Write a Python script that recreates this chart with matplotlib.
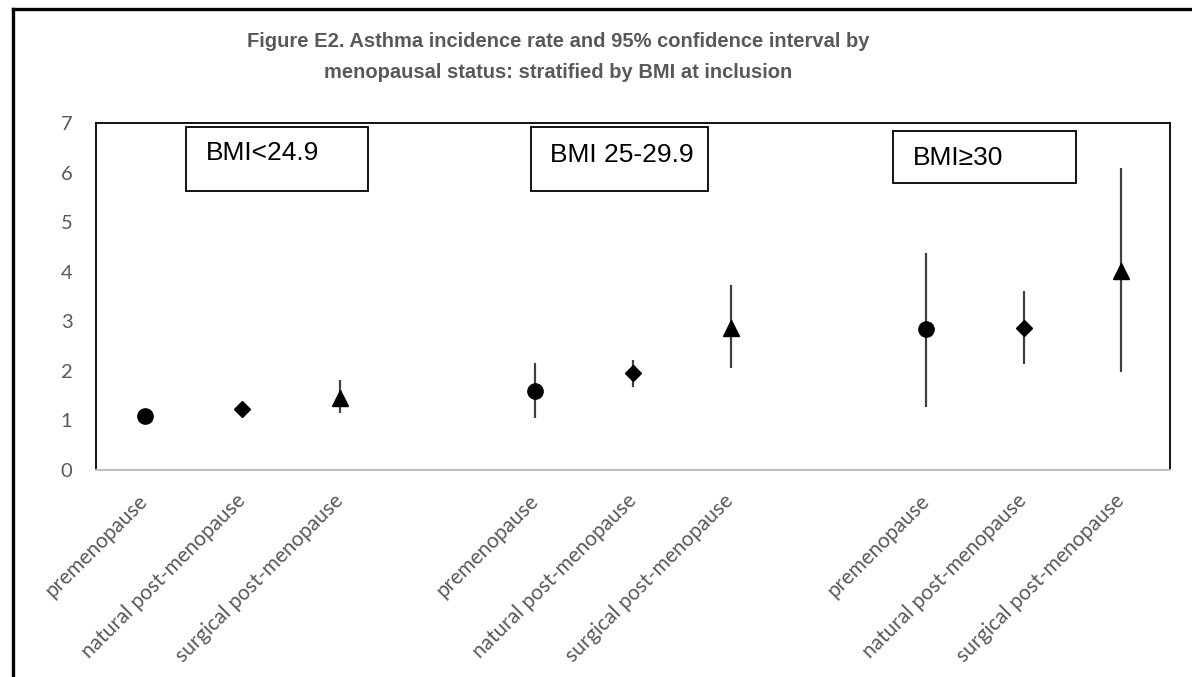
import matplotlib.pyplot as plt
from matplotlib.patches import Rectangle
from matplotlib.lines import Line2D

# datos
status = ['premenopause', 'natural post-menopause', 'surgical post-menopause']
groups = ['BMI<24.9', 'BMI 25-29.9', 'BMI\u226530']

# tasa por grupo de BMI (una lista por estado menopausico)
rate_pre = [1.08, 1.59, 2.84]
low_pre = [0.95, 1.04, 1.28]
high_pre = [1.20, 2.15, 4.38]

rate_nat = [1.24, 1.95, 2.87]
low_nat = [1.16, 1.68, 2.13]
high_nat = [1.32, 2.22, 3.61]

rate_sur = [1.45, 2.86, 4.02]
low_sur = [1.14, 2.05, 1.98]
high_sur = [1.82, 3.73, 6.09]

W, H = 1192, 677
fig = plt.figure(figsize=(W / 100, H / 100), dpi=100)
ax = fig.add_axes([96 / W, 1 - 470 / H, (1170 - 96) / W, (470 - 123) / H])

series = [
    (rate_pre, low_pre, high_pre, 'o', 11),
    (rate_nat, low_nat, high_nat, 'D', 8),
    (rate_sur, low_sur, high_sur, '^', 11),
]
ticks = []
labels = []
for g in range(len(groups)):
    for s, name in enumerate(status):
        ticks.append(g * 4 + s)
        labels.append(name)

for s, (rate, low, high, mk, ms) in enumerate(series):
    xs = [g * 4 + s for g in range(len(groups))]
    err = [[r - l for r, l in zip(rate, low)], [h - r for r, h in zip(rate, high)]]
    ax.errorbar(xs, rate, yerr=err, fmt=mk, ms=ms, color='black',
                ecolor='#404040', elinewidth=1.6, capsize=0, zorder=3)

ax.set_xlim(-0.5, 10.5)
ax.set_ylim(0, 7)
ax.set_yticks(range(0, 8))
ax.set_xticks(ticks)
ax.set_xticklabels(labels, rotation=45, ha='right', va='center',
                   rotation_mode='anchor', family='Lato', fontsize=15,
                   color='#595959')
ax.tick_params(axis='x', length=0, pad=20)
ax.tick_params(axis='y', length=0, pad=17)
for t in ax.get_yticklabels():
    t.set_family('Lato')
    t.set_fontsize(14.5)
    t.set_color('#595959')

for side in ['left', 'top', 'right']:
    ax.spines[side].set_color('black')
    ax.spines[side].set_linewidth(1.3)
ax.spines['bottom'].set_color('#bfbfbf')
ax.spines['bottom'].set_linewidth(1.5)

# cajas de texto de cada grupo de BMI
boxes = [(0.0838, 0.804, 0.1695, 0.184, 0.1024, 0.913),
         (0.405, 0.804, 0.165, 0.184, 0.4227, 0.908),
         (0.742, 0.827, 0.1705, 0.150, 0.7607, 0.899)]
for name, (bx, by, bw, bh, tx, ty) in zip(groups, boxes):
    ax.add_patch(Rectangle((bx, by), bw, bh, transform=ax.transAxes,
                           fill=False, edgecolor='black', lw=1.3, zorder=4))
    ax.text(tx, ty, name, transform=ax.transAxes, ha='left', va='center',
            family=['Liberation Sans', 'DejaVu Sans'], fontsize=19, color='black')

fig.text(558 / W, 1 - 57 / H,
         'Figure E2. Asthma incidence rate and 95% confidence interval by\n'
         'menopausal status: stratified by BMI at inclusion',
         ha='center', va='center', family='Liberation Sans', fontweight='bold',
         fontsize=14.5, color='#595959', linespacing=1.75)

# marco exterior (solo se ve arriba y a la izquierda)
fig.add_artist(Line2D([13 / W, 1], [1 - 9 / H, 1 - 9 / H], color='black', lw=2.4))
fig.add_artist(Line2D([13 / W, 13 / W], [0, 1 - 9 / H], color='black', lw=2.4))

fig.savefig('out.png', dpi=100)
